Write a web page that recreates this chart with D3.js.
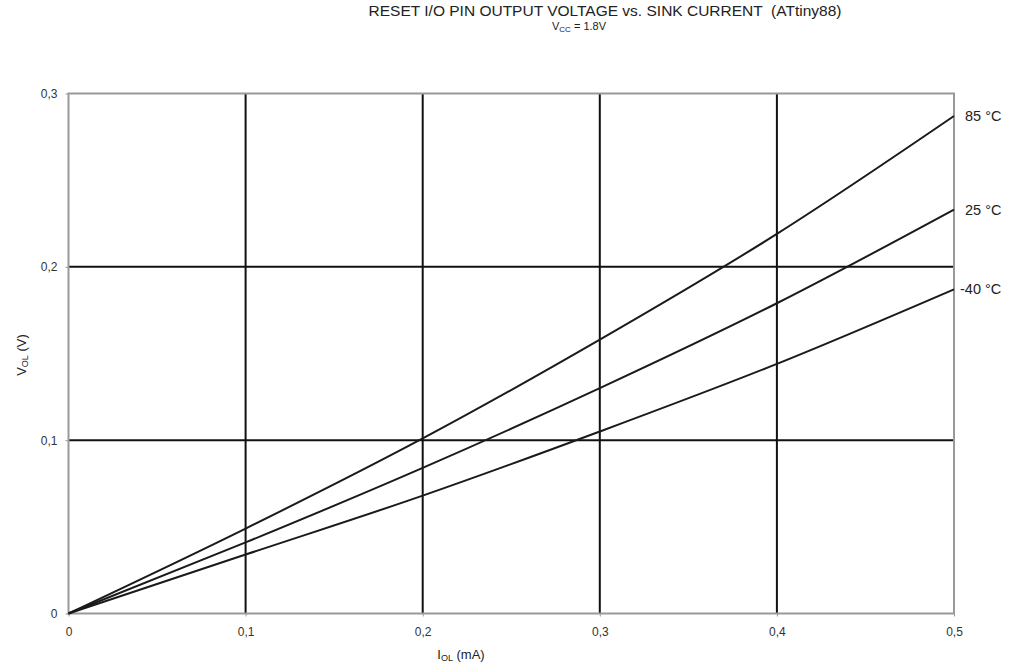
<!DOCTYPE html>
<html><head><meta charset="utf-8">
<script src="https://cdn.jsdelivr.net/npm/d3@7"></script>
<style>body{margin:0;background:#fff;font-family:Arial,"Liberation Sans",sans-serif;}</style>
</head><body><svg id="c" width="1021" height="667"></svg>
<script>
const xTicks = [0, 0.1, 0.2, 0.3, 0.4, 0.5];
const yTicks = [0, 0.1, 0.2, 0.3];
const current = [0, 0.1, 0.2, 0.3, 0.4, 0.5];
const v85 = [0, 0.049, 0.101, 0.158, 0.219, 0.287];
const v25 = [0, 0.041, 0.084, 0.130, 0.179, 0.233];
const vM40 = [0, 0.034, 0.068, 0.105, 0.144, 0.187];
const seriesNames = ["85 °C", "25 °C", "-40 °C"];

const svg = d3.select("#c");
const L = 68.5, R = 954, T = 93.5, B = 613.5;
const x = d3.scaleLinear().domain([0, 0.5]).range([L, R]);
const y = d3.scaleLinear().domain([0, 0.3]).range([B, T]);
const fmt = d => d === 0 ? "0" : d3.format(".1f")(d).replace(".", ",");
const FONT = "Arial, 'Liberation Sans', sans-serif";

// grid
svg.append("g").selectAll("line").data(xTicks.slice(1, -1)).join("line")
  .attr("x1", d => x(d)).attr("x2", d => x(d)).attr("y1", T).attr("y2", B)
  .attr("stroke", "#111").attr("stroke-width", 2);
svg.append("g").selectAll("line").data(yTicks.slice(1, -1)).join("line")
  .attr("y1", d => y(d)).attr("y2", d => y(d)).attr("x1", L).attr("x2", R)
  .attr("stroke", "#111").attr("stroke-width", 2);

// frame
svg.append("rect").attr("x", L).attr("y", T).attr("width", R - L).attr("height", B - T)
  .attr("fill", "none").attr("stroke", "#999").attr("stroke-width", 2);

// axes
const xa = svg.append("g").attr("transform", `translate(0,${B})`)
  .call(d3.axisBottom(x).tickValues(xTicks).tickFormat(fmt).tickSize(3).tickPadding(11));
const ya = svg.append("g").attr("transform", `translate(${L},0)`)
  .call(d3.axisLeft(y).tickValues(yTicks).tickFormat(fmt).tickSize(3).tickPadding(8));
[xa, ya].forEach(a => {
  a.select(".domain").remove();
  a.selectAll("line").attr("stroke", "#999");
  a.selectAll("text").attr("font-size", 12).attr("fill", "#333").attr("font-family", FONT);
});

// lines
const data = [v85, v25, vM40];
const line = d3.line().x((d, i) => x(current[i])).y(d => y(d)).curve(d3.curveMonotoneX);
svg.append("g").selectAll("path").data(data).join("path")
  .attr("d", d => line(d)).attr("fill", "none").attr("stroke", "#1a1a1a").attr("stroke-width", 2);

// series labels
svg.append("g").selectAll("text").data(data).join("text")
  .attr("x", (d, i) => i === 2 ? 960 : 965).attr("y", d => y(d[d.length - 1]) + 5)
  .attr("font-size", 14.5).attr("fill", "#222").text((d, i) => seriesNames[i]);

// titles
svg.append("text").attr("x", 605).attr("y", 16).attr("text-anchor", "middle")
  .attr("xml:space", "preserve").style("white-space", "pre")
  .attr("font-size", 15.5).attr("fill", "#222").text("RESET I/O PIN OUTPUT VOLTAGE vs. SINK CURRENT  (ATtiny88)");
const sub = svg.append("text").attr("x", 579).attr("y", 30).attr("text-anchor", "middle")
  .attr("font-size", 11).attr("fill", "#222");
sub.append("tspan").text("V");
sub.append("tspan").attr("font-size", 8).attr("dy", 2).text("CC");
sub.append("tspan").attr("dy", -2).text(" = 1.8V");

const xl = svg.append("text").attr("x", 461).attr("y", 659).attr("text-anchor", "middle")
  .attr("font-size", 13).attr("fill", "#222");
xl.append("tspan").text("I");
xl.append("tspan").attr("font-size", 9).attr("dy", 2).text("OL");
xl.append("tspan").attr("dy", -2).text(" (mA)");

const yl = svg.append("text").attr("transform", "translate(26,355) rotate(-90)").attr("text-anchor", "middle")
  .attr("font-size", 13).attr("fill", "#222");
yl.append("tspan").text("V");
yl.append("tspan").attr("font-size", 9).attr("dy", 2).text("OL");
yl.append("tspan").attr("dy", -2).text(" (V)");
</script></body></html>
